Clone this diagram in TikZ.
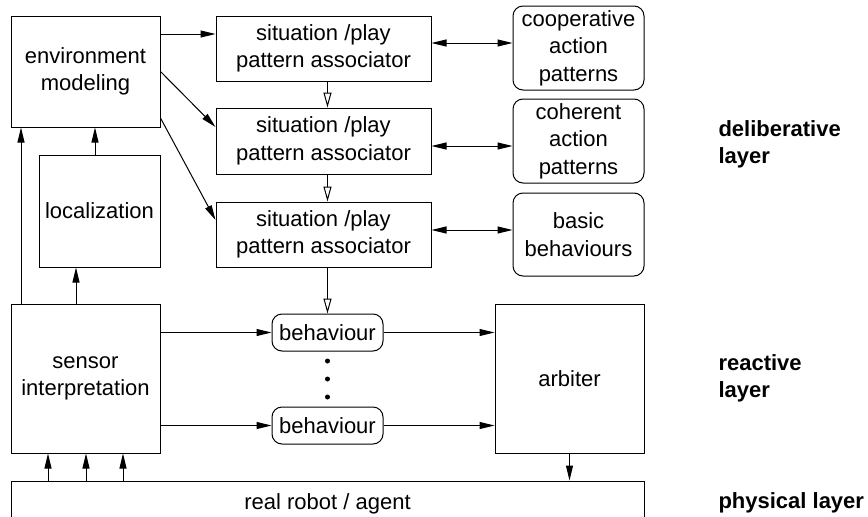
\documentclass[tikz,border=0pt]{standalone}
\usepackage{fontspec}
\setmainfont{Liberation Sans}
\usetikzlibrary{arrows.meta}

\begin{document}
\begin{tikzpicture}[x=1pt, y=-1pt, line width=1pt,
  box/.style = {draw, align=center, inner sep=0pt, font=\fontsize{22}{27.5}\selectfont},
  pat/.style = {box, rounded corners=10pt},
  lay/.style = {anchor=west, align=left, inner sep=0pt, font=\fontsize{22}{27}\selectfont\bfseries},
  fwd/.style = {-{Triangle[length=15pt,width=7pt]}},
  both/.style = {{Triangle[length=15pt,width=7pt]}-{Triangle[length=15pt,width=7pt]}},
  seq/.style = {-{Triangle[open,length=15pt,width=8pt]}}]
  \clip (0,0) rectangle (868,517);
  \node[box, minimum width=149pt, minimum height=111pt] (env) at (85.5,71.5) {environment\\modeling};
  \node[box, minimum width=121pt, minimum height=112pt] (loc) at (99.5,211) {localization};
  \node[box, minimum width=149pt, minimum height=149pt] (sens) at (85.5,378.5) {sensor\\interpretation};
  \node[box, minimum width=215pt, minimum height=65pt] (sit1) at (323.5,48.5) {situation /play\\pattern associator};
  \node[box, minimum width=215pt, minimum height=66pt] (sit2) at (323.5,141) {situation /play\\pattern associator};
  \node[box, minimum width=215pt, minimum height=65pt] (sit3) at (323.5,234.5) {situation /play\\pattern associator};
  \node[pat, minimum width=131pt, minimum height=84pt] (coop) at (578.5,48) {cooperative\\action\\patterns};
  \node[pat, minimum width=131pt, minimum height=84pt] (coh) at (578.5,141) {coherent\\action\\patterns};
  \node[pat, minimum width=131pt, minimum height=83pt] (basic) at (578.5,234.5) {basic\\behaviours};
  \node[pat, minimum width=111pt, minimum height=37pt] (beh1) at (327.5,332.5) {behaviour};
  \node[pat, minimum width=111pt, minimum height=37pt] (beh2) at (327.5,425.5) {behaviour};
  \node[box, minimum width=149pt, minimum height=149pt] (arb) at (569.5,378.5) {arbiter};
  \node[box, minimum width=633pt, minimum height=46pt] (robot) at (327.5,504) {real robot / agent};
  \node[lay] (delib) at (718,144) {deliberative\\layer};
  \node[lay] (react) at (718,378.5) {reactive\\layer};
  \node[lay] (phys) at (718,503) {physical layer};
  \foreach \y in {361,379,397}
    \fill (327.5,\y) circle (2.5pt);
  \draw[fwd] ([yshift=37.5pt]env.east) -- ([yshift=14.5pt]sit1.west);
  \draw[fwd] (env.east) -- ([yshift=14pt]sit2.west);
  \draw[fwd] ([yshift=-46.5pt]env.east) -- ([yshift=14.5pt]sit3.west);
  \draw[both] ([yshift=5.5pt]sit1.east) -- ([yshift=5pt]coop.west);
  \draw[both] ([yshift=-5pt]sit2.east) -- ([yshift=-5pt]coh.west);
  \draw[both] ([yshift=4.5pt]sit3.east) -- ([yshift=4.5pt]basic.west);
  \draw[seq] (sit1.south -| beh1) -- (sit2.north -| beh1);
  \draw[seq] (sit2.south -| beh1) -- (sit3.north -| beh1);
  \draw[seq] (sit3.south -| beh1) -- (beh1.north);
  \draw[fwd] (sens.east |- beh1) -- (beh1.west);
  \draw[fwd] (sens.east |- beh2) -- (beh2.west);
  \draw[fwd] (beh1.east) -- (arb.west |- beh1);
  \draw[fwd] (beh2.east) -- (arb.west |- beh2);
  \draw[fwd] (arb.south) -- (arb.south |- robot.north);
  \draw[fwd] ([xshift=-64.5pt]sens.north) -- ([xshift=-64.5pt]env.south);
  \draw[fwd] ([xshift=-9.5pt]sens.north) -- ([xshift=-9.5pt]sens.north |- loc.south);
  \draw[fwd] ([xshift=-4.5pt]loc.north) -- ([xshift=-4.5pt]loc.north |- env.south);
  \foreach \dx in {-37.5,0.5,37.5}
    \draw[fwd] ([xshift=\dx pt]sens.south |- robot.north) -- ([xshift=\dx pt]sens.south);
\end{tikzpicture}
\end{document}
